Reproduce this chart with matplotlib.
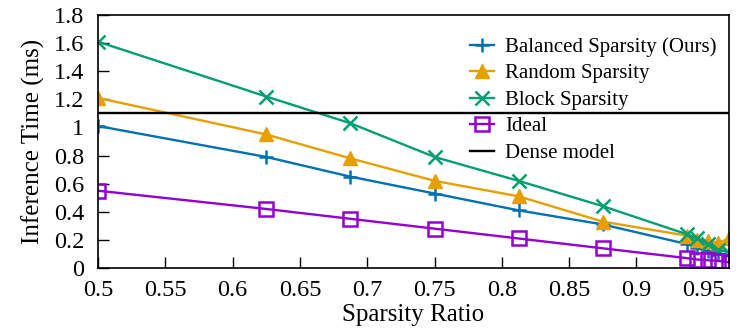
import numpy as np
import matplotlib
matplotlib.use('Agg')
import matplotlib.pyplot as plt

plt.rcParams['font.family'] = ['Liberation Serif', 'DejaVu Serif']

# sparsity ratios
sparsity = [0.5, 0.625, 0.6875, 0.75, 0.8125, 0.875, 0.9375, 0.9453, 0.9531, 0.9609, 0.96875]

balanced = [1.01, 0.79, 0.65, 0.53, 0.41, 0.31, 0.17, 0.14, 0.12, 0.10, 0.09]
random_sp = [1.21, 0.95, 0.78, 0.62, 0.51, 0.33, 0.23, 0.20, 0.19, 0.18, 0.21]
block = [1.61, 1.22, 1.03, 0.79, 0.62, 0.44, 0.24, 0.21, 0.17, 0.13, 0.11]
ideal = [0.55, 0.42, 0.35, 0.28, 0.21, 0.14, 0.07, 0.06, 0.055, 0.05, 0.04]
dense = 1.1

xticks = [0.5, 0.55, 0.6, 0.65, 0.7, 0.75, 0.8, 0.85, 0.9, 0.95]
xticklabels = ['0.5', '0.55', '0.6', '0.65', '0.7', '0.75', '0.8', '0.85', '0.9', '0.95']
yticks = [0, 0.2, 0.4, 0.6, 0.8, 1, 1.2, 1.4, 1.6, 1.8]
yticklabels = ['0', '0.2', '0.4', '0.6', '0.8', '1', '1.2', '1.4', '1.6', '1.8']

fig = plt.figure(figsize=(7.47, 3.36), dpi=100)
ax = fig.add_axes([98 / 747, 1 - 268 / 336, (729 - 98) / 747, (268 - 15) / 336])

ax.plot(sparsity, balanced, color='#0072b2', lw=1.7, marker='+', ms=10, mew=1.8,
        label='Balanced Sparsity (Ours)')
ax.plot(sparsity, random_sp, color='#e69f00', lw=1.7, marker='^', ms=10,
        label='Random Sparsity')
ax.plot(sparsity, block, color='#009e73', lw=1.7, marker='x', ms=10, mew=1.8,
        label='Block Sparsity')
ax.plot(sparsity, ideal, color='#9400d3', lw=1.7, marker='s', ms=10, mew=1.8,
        mfc='none', label='Ideal')
ax.axhline(dense, color='black', lw=1.7, label='Dense model')

ax.set_xlim(0.5, 0.96875)
ax.set_ylim(0, 1.8)
ax.set_xticks(xticks)
ax.set_xticklabels(xticklabels)
ax.set_yticks(yticks)
ax.set_yticklabels(yticklabels)
ax.tick_params(direction='in', length=8, width=1, labelsize=17.5)
ax.tick_params(axis='x', pad=9)
ax.tick_params(axis='y', pad=10)
for s in ax.spines.values():
    s.set_linewidth(1.2)

ax.set_xlabel('Sparsity Ratio', fontsize=18, labelpad=2)
ax.set_ylabel('Inference Time (ms)', fontsize=18, labelpad=6)

ax.legend(loc='upper right', bbox_to_anchor=(0.9937, 0.945), frameon=False,
          fontsize=15, handlelength=1.15, handletextpad=0.53, labelspacing=0.33,
          borderaxespad=0, borderpad=0.4)

fig.savefig('out.png', dpi=100)
